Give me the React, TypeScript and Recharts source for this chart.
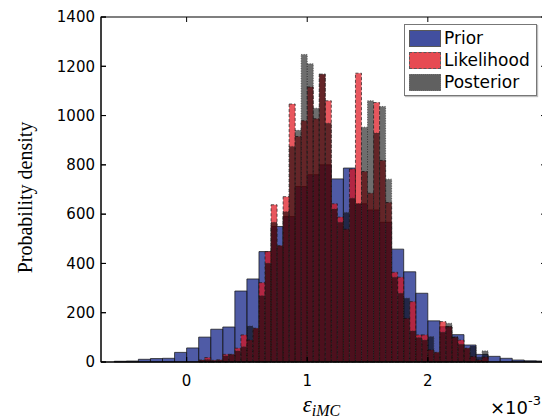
import React from 'react';
import { ComposedChart, XAxis, YAxis, ReferenceArea } from 'recharts';

// ---- axis ticks / ranges (x in units of 1e-3) ----
const xTicks = [0, 1, 2];
const yTicks = [0, 200, 400, 600, 800, 1000, 1200, 1400];
const xDomain: [number, number] = [-0.71, 2.98];
const yDomain: [number, number] = [0, 1400];

// ---- Prior histogram (bin width 0.1e-3, first edge -0.7e-3) ----
const priorStart = -0.7;
const priorBinWidth = 0.1;
const priorValues = [
  0, 3, 4, 11, 14, 15, 39, 57, 101, 133, 142, 288, 337, 448, 550, 590, 712, 760, 800,
  743, 787, 642, 617, 567, 458, 366, 279, 167, 143, 111, 69, 31, 23, 15, 8, 5, 4,
];

// ---- Likelihood histogram (bin width 0.05e-3, first edge 0.1e-3) ----
const likelihoodStart = 0.1;
const likelihoodBinWidth = 0.05;
const likelihoodValues = [
  8, 18, 7, 9, 31, 31, 56, 110, 89, 137,
  322, 448, 638, 472, 671, 1047, 915, 979, 1116, 987,
  1168, 1060, 642, 588, 539, 783, 1172, 773, 685, 1053,
  818, 647, 364, 344, 177, 245, 110, 110, 49, 39,
  164, 143, 100, 89, 56, 22, 8, 20,
];

// ---- Posterior histogram (bin width 0.05e-3, first edge 0.1e-3) ----
const posteriorStart = 0.1;
const posteriorBinWidth = 0.05;
const posteriorValues = [
  8, 10, 6, 8, 25, 31, 45, 62, 146, 137,
  269, 401, 567, 472, 610, 875, 940, 1248, 1210, 1030,
  1168, 969, 621, 567, 607, 665, 642, 953, 1060, 929,
  1037, 742, 344, 279, 259, 126, 99, 89, 103, 39,
  121, 157, 103, 72, 56, 65, 20, 45,
];

const seriesNames = ['Prior', 'Likelihood', 'Posterior'];

type Style = {
  fill: string;
  fillOpacity: number;
  stroke: string;
  strokeOpacity: number;
  strokeWidth: number;
  strokeDasharray?: string;
  cssBorder: string;
};

const seriesStyles: Record<string, Style> = {
  Prior: { fill: 'rgb(4,21,128)', fillOpacity: 0.7, stroke: '#1a1a1a', strokeOpacity: 0.75, strokeWidth: 1, cssBorder: 'solid' },
  Likelihood: { fill: 'rgb(222,16,25)', fillOpacity: 0.7, stroke: '#1a1a1a', strokeOpacity: 0.75, strokeWidth: 0.9, strokeDasharray: '3 2', cssBorder: 'dashed' },
  Posterior: { fill: '#000000', fillOpacity: 0.57, stroke: '#333333', strokeOpacity: 0.8, strokeWidth: 0.9, strokeDasharray: '1 1.5', cssBorder: 'dotted' },
};

const toBins = (start: number, width: number, values: number[]) =>
  values.map((v, i) => ({
    x1: +(start + i * width).toFixed(4),
    x2: Math.min(+(start + (i + 1) * width).toFixed(4), xDomain[1]),
    y: v,
  }));

const seriesBins: Record<string, { x1: number; x2: number; y: number }[]> = {
  Prior: toBins(priorStart, priorBinWidth, priorValues),
  Likelihood: toBins(likelihoodStart, likelihoodBinWidth, likelihoodValues),
  Posterior: toBins(posteriorStart, posteriorBinWidth, posteriorValues),
};

const chartData = seriesBins.Prior.map((b) => ({ x: (b.x1 + b.x2) / 2, prior: b.y }));

// ---- layout ----
const chartW = 542;
const chartH = 412;
const margin = { top: 9, right: 4, bottom: 28, left: 53 };
const xAxisH = 30;
const yAxisW = 40;
const plotLeft = margin.left + yAxisW;
const plotRight = chartW - margin.right;
const plotTop = margin.top;
const plotBottom = chartH - margin.bottom - xAxisH;
const tickLen = 5;

const tickFont = { fontSize: 15, fill: '#000', fontFamily: 'DejaVu Sans' };

const pxOf = (t: number) => plotLeft + ((t - xDomain[0]) / (xDomain[1] - xDomain[0])) * (plotRight - plotLeft);
const pyOf = (v: number) => plotBottom - ((v - yDomain[0]) / (yDomain[1] - yDomain[0])) * (plotBottom - plotTop);

// axes box with inward tick marks on all four sides
const AxesBox = () => (
  <g>
    <rect x={plotLeft} y={plotTop} width={plotRight - plotLeft} height={plotBottom - plotTop} fill="none" stroke="#000" strokeWidth={1} />
    {xTicks.map((t) => (
      <g key={`xt-${t}`}>
        <line x1={pxOf(t)} x2={pxOf(t)} y1={plotTop} y2={plotTop + tickLen} stroke="#000" strokeWidth={1} />
        <line x1={pxOf(t)} x2={pxOf(t)} y1={plotBottom} y2={plotBottom - tickLen} stroke="#000" strokeWidth={1} />
      </g>
    ))}
    {yTicks.map((t) => (
      <g key={`yt-${t}`}>
        <line x1={plotLeft} x2={plotLeft + tickLen} y1={pyOf(t)} y2={pyOf(t)} stroke="#000" strokeWidth={1} />
        <line x1={plotRight} x2={plotRight - tickLen} y1={pyOf(t)} y2={pyOf(t)} stroke="#000" strokeWidth={1} />
      </g>
    ))}
  </g>
);

const XLabel = (props: any) => {
  const vb = props.viewBox || {};
  const right = vb.x + vb.width;
  const bottom = vb.y;
  const cx = vb.x + vb.width / 2 - 2;
  return (
    <g>
      <text x={cx} y={bottom + 50} textAnchor="middle" fontFamily="Liberation Serif" fontStyle="italic" fontSize={23} fill="#000">
        ε<tspan fontSize={16} dy={4}>iMC</tspan>
      </text>
      <text x={right - 56} y={bottom + 52} textAnchor="start" fontFamily="DejaVu Sans" fontSize={18} fill="#000">
        ×10<tspan fontSize={13} dy={-9}>-3</tspan>
      </text>
    </g>
  );
};

const YLabel = (props: any) => {
  const vb = props.viewBox || {};
  const x = vb.x + vb.width - 69.5;
  const y = vb.y + vb.height / 2 + 8;
  return (
    <text x={x} y={y} transform={`rotate(-90, ${x}, ${y})`} textAnchor="middle" fontFamily="Liberation Serif" fontSize={20} fill="#000">
      Probability density
    </text>
  );
};

const LegendBox = () => (
  <div
    style={{
      position: 'absolute',
      left: 396,
      top: 16,
      width: 131,
      height: 70,
      border: '1px solid #777',
      background: '#fff',
      boxShadow: '1px 1px 1px rgba(0,0,0,0.25)',
      fontFamily: 'DejaVu Sans',
      fontSize: 17,
      color: '#000',
      boxSizing: 'content-box',
    }}
  >
    {seriesNames.map((name, i) => {
      const s = seriesStyles[name];
      return (
        <div key={name} style={{ position: 'absolute', left: 4, top: 4 + i * 22, height: 18, display: 'flex', alignItems: 'center' }}>
          <div
            style={{
              width: 30,
              height: 15,
              border: `1px ${s.cssBorder} #222`,
              background: s.fill,
              opacity: s.fillOpacity + 0.05,
              boxSizing: 'content-box',
            }}
          />
          <span style={{ marginLeft: 3, lineHeight: '18px', whiteSpace: 'nowrap' }}>{name}</span>
        </div>
      );
    })}
  </div>
);

const barElements = seriesNames.flatMap((name) =>
  seriesBins[name]
    .filter((b) => b.y > 0)
    .map((b, i) => {
      const s = seriesStyles[name];
      return (
        <ReferenceArea
          key={`${name}-${i}`}
          x1={b.x1}
          x2={b.x2}
          y1={0}
          y2={b.y}
          fill={s.fill}
          fillOpacity={s.fillOpacity}
          stroke={s.stroke}
          strokeOpacity={s.strokeOpacity}
          strokeWidth={s.strokeWidth}
          strokeDasharray={s.strokeDasharray}
        />
      );
    })
);

export default function App() {
  return (
    <div style={{ position: 'relative', width: chartW, height: chartH }}>
      <ComposedChart width={chartW} height={chartH} data={chartData} margin={margin}>
        <XAxis
          dataKey="x"
          type="number"
          domain={xDomain}
          allowDataOverflow
          ticks={xTicks}
          height={xAxisH}
          tickSize={-tickLen}
          tickMargin={18}
          tick={tickFont}
          stroke="#000"
          axisLine={{ stroke: '#000' }}
          tickLine={{ stroke: '#000' }}
          label={<XLabel />}
        />
        <YAxis
          dataKey="prior"
          type="number"
          domain={yDomain}
          allowDataOverflow
          ticks={yTicks}
          width={yAxisW}
          tickSize={-tickLen}
          tickMargin={11}
          tick={tickFont}
          stroke="#000"
          axisLine={{ stroke: '#000' }}
          tickLine={{ stroke: '#000' }}
          label={<YLabel />}
        />
        {barElements}
      </ComposedChart>
      <svg
        width={chartW}
        height={chartH}
        style={{ position: 'absolute', left: 0, top: 0, pointerEvents: 'none', overflow: 'visible' }}
      >
        <AxesBox />
      </svg>
      <LegendBox />
    </div>
  );
}
